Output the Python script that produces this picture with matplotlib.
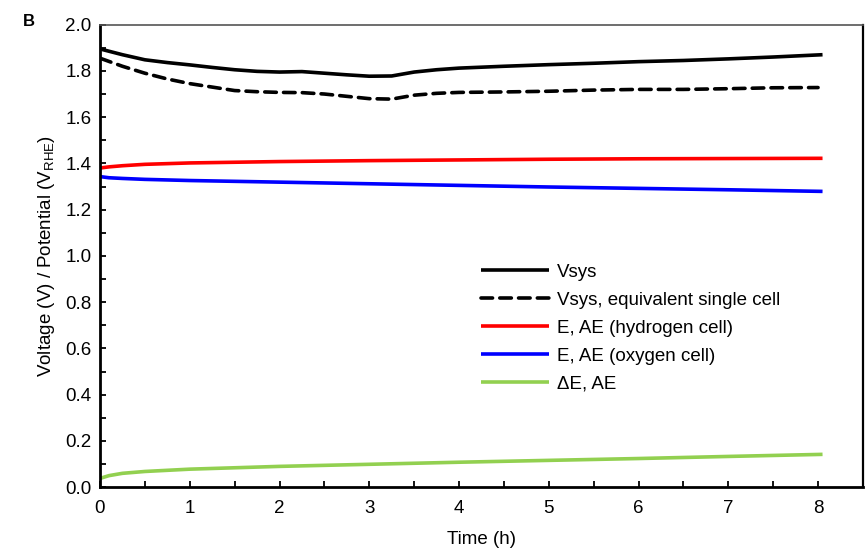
import matplotlib
matplotlib.use('Agg')
import matplotlib.pyplot as plt
from matplotlib.ticker import MultipleLocator

plt.rcParams['font.family'] = ['Liberation Sans', 'DejaVu Sans']

# values
t_sys = [0, 0.25, 0.5, 0.75, 1.0, 1.25, 1.5, 1.75, 2.0, 2.25, 2.5, 2.75, 3.0,
         3.25, 3.5, 3.75, 4.0, 4.5, 5.0, 5.5, 6.0, 6.5, 7.0, 7.5, 8.05]
v_sys = [1.895, 1.870, 1.848, 1.836, 1.826, 1.815, 1.805, 1.798, 1.795, 1.797,
         1.790, 1.783, 1.777, 1.778, 1.795, 1.805, 1.812, 1.820, 1.827, 1.833,
         1.840, 1.845, 1.852, 1.860, 1.870]
t_single = [0, 0.25, 0.5, 0.75, 1.0, 1.25, 1.5, 1.75, 2.0, 2.25, 2.5, 2.75, 3.0,
            3.25, 3.5, 3.75, 4.0, 4.5, 5.0, 5.5, 6.0, 6.5, 7.0, 7.5, 8.0]
v_single = [1.855, 1.820, 1.790, 1.765, 1.745, 1.730, 1.715, 1.710, 1.707, 1.706,
            1.700, 1.690, 1.680, 1.678, 1.695, 1.703, 1.707, 1.709, 1.712, 1.717,
            1.720, 1.720, 1.723, 1.727, 1.728]
t_e = [0, 0.1, 0.25, 0.5, 1.0, 2.0, 3.0, 4.0, 5.0, 6.0, 7.0, 8.05]
e_h2 = [1.380, 1.385, 1.390, 1.396, 1.402, 1.408, 1.412, 1.415, 1.418, 1.420, 1.421, 1.422]
e_o2 = [1.343, 1.338, 1.335, 1.331, 1.326, 1.319, 1.312, 1.305, 1.298, 1.292, 1.286, 1.279]
de = [0.038, 0.050, 0.060, 0.068, 0.078, 0.090, 0.099, 0.108, 0.116, 0.124, 0.133, 0.142]

fs = 13.5

fig = plt.figure(figsize=(8.65, 5.6), dpi=100)
ax = fig.add_axes([0.1156, 0.130, 0.882, 0.826])

lw = 2.6
ax.plot(t_sys, v_sys, color='black', lw=lw, solid_capstyle='butt', label='Vsys')
ax.plot(t_single, v_single, color='black', lw=lw, ls=(0, (3.2, 2.0)),
        dash_capstyle='round', label='Vsys, equivalent single cell')
ax.plot(t_e, e_h2, color='#ff0000', lw=lw, solid_capstyle='butt', label='E, AE (hydrogen cell)')
ax.plot(t_e, e_o2, color='#0000ff', lw=lw, solid_capstyle='butt', label='E, AE (oxygen cell)')
ax.plot(t_e, de, color='#92d050', lw=lw, solid_capstyle='butt', label='ΔE, AE')

ax.set_xlim(0, 8.5)
ax.set_ylim(0, 2.0)
ax.set_xticks(range(0, 9))
ax.xaxis.set_minor_locator(MultipleLocator(0.5))
ax.yaxis.set_major_locator(MultipleLocator(0.2))
ax.yaxis.set_minor_locator(MultipleLocator(0.1))
ax.yaxis.set_major_formatter(matplotlib.ticker.FormatStrFormatter('%.1f'))
ax.tick_params(which='both', direction='in', length=4, width=1.3, labelsize=fs)
ax.tick_params(axis='x', pad=9)
ax.tick_params(axis='y', pad=6)

for s in ['left', 'bottom']:
    ax.spines[s].set_linewidth(2)
ax.spines['right'].set_linewidth(1.6)
ax.spines['top'].set_linewidth(1.2)
ax.spines['top'].set_color('#555555')

ax.set_xlabel('Time (h)', fontsize=fs, labelpad=10)
ax.set_ylabel('Voltage (V) / Potential (V$_{\\mathregular{RHE}}$)', fontsize=fs, labelpad=6)

ax.legend(loc='upper left', bbox_to_anchor=(0.5, 0.483), frameon=False, fontsize=fs,
          handlelength=3.6, handletextpad=0.45, labelspacing=0.58, borderpad=0,
          borderaxespad=0)

fig.text(0.026, 0.962, 'B', fontsize=12, fontweight='bold', va='center')

fig.savefig('out.png', dpi=100)
